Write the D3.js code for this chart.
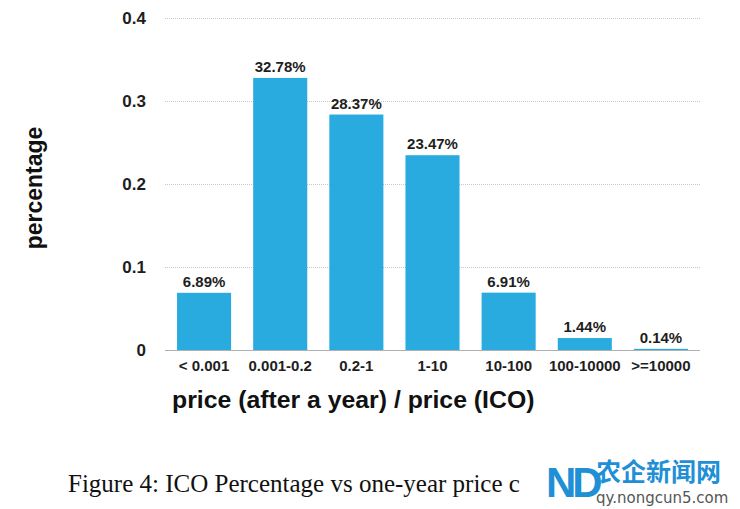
<!DOCTYPE html>
<html><head><meta charset="utf-8">
<script src="https://cdn.jsdelivr.net/npm/d3@7"></script>
<style>
html,body{margin:0;padding:0;background:#fff;}
svg{display:block;}
</style>
</head><body>
<svg id="chart" width="740" height="509"></svg>
<script>
const categories = ["< 0.001", "0.001-0.2", "0.2-1", "1-10", "10-100", "100-10000", ">=10000"];
const values = [0.0689, 0.3278, 0.2837, 0.2347, 0.0691, 0.0144, 0.0014];
const valueLabels = ["6.89%", "32.78%", "28.37%", "23.47%", "6.91%", "1.44%", "0.14%"];
const yTicks = [0, 0.1, 0.2, 0.3, 0.4];
const yTickLabels = ["0", "0.1", "0.2", "0.3", "0.4"];
const xTitle = "price (after a year) / price (ICO)";
const yTitle = "percentage";
const caption = "Figure 4: ICO Percentage vs one-year price c";

const svg = d3.select("#chart");
const sans = "'Liberation Sans', Arial, Helvetica, sans-serif";

const x = d3.scaleBand().domain(categories).range([166, 699]).paddingInner(0.29).paddingOuter(0.145);
const y = d3.scaleLinear().domain([0, 0.4]).range([350, 18]);

// grid lines
svg.append("g").selectAll("line").data(yTicks.slice(1)).join("line")
  .attr("x1", 165).attr("x2", 700)
  .attr("y1", d => y(d) + 0.5).attr("y2", d => y(d) + 0.5)
  .attr("stroke", "#c8c8c8").attr("stroke-width", 1).attr("stroke-dasharray", "1,1");

// y tick labels
const yAxis = d3.axisLeft(y).tickValues(yTicks).tickFormat((d, i) => yTickLabels[i]).tickSize(0).tickPadding(0);
const gy = svg.append("g").attr("transform", "translate(146,0)").call(yAxis);
gy.select(".domain").remove();
gy.selectAll("text").attr("font-family", sans).attr("font-weight", "bold").attr("font-size", 17).attr("fill", "#1e1e1e");

// bars
svg.append("g").selectAll("rect").data(values).join("rect")
  .attr("x", (d, i) => x(categories[i]))
  .attr("width", x.bandwidth())
  .attr("y", d => y(d))
  .attr("height", d => y(0) - y(d))
  .attr("fill", "#29abe0");

// baseline
svg.append("line").attr("x1", 165).attr("x2", 700).attr("y1", y(0) + 0.5).attr("y2", y(0) + 0.5)
  .attr("stroke", "#b0b0b0").attr("stroke-width", 1);

// value labels
svg.append("g").selectAll("text").data(values).join("text")
  .attr("x", (d, i) => x(categories[i]) + x.bandwidth() / 2)
  .attr("y", d => y(d) - 6)
  .attr("text-anchor", "middle")
  .attr("font-family", sans).attr("font-weight", "bold").attr("font-size", 15).attr("fill", "#1e1e1e")
  .text((d, i) => valueLabels[i]);

// x tick labels
const xAxis = d3.axisBottom(x).tickSize(0).tickPadding(0);
const gx = svg.append("g").attr("transform", "translate(0,360)").call(xAxis);
gx.select(".domain").remove();
gx.selectAll("text").attr("font-family", sans).attr("font-weight", "bold").attr("font-size", 15).attr("fill", "#1e1e1e");

// axis titles
svg.append("text").attr("x", 172).attr("y", 408)
  .attr("font-family", sans).attr("font-weight", "bold").attr("font-size", 24.8).attr("fill", "#111")
  .text(xTitle);
svg.append("text").attr("transform", "translate(42,188) rotate(-90)")
  .attr("text-anchor", "middle")
  .attr("font-family", sans).attr("font-weight", "bold").attr("font-size", 23).attr("fill", "#111")
  .text(yTitle);

// caption
svg.append("text").attr("x", 68).attr("y", 492)
  .attr("font-family", "'Liberation Serif', 'Times New Roman', serif").attr("font-size", 25).attr("fill", "#111")
  .text(caption);

// watermark
const wm = svg.append("g");
wm.append("text").attr("x", 546).attr("y", 497)
  .attr("font-family", sans).attr("font-weight", "bold").attr("font-size", 42)
  .attr("fill", "#1f8fd6").attr("letter-spacing", -4).text("ND");
wm.append("text").attr("x", 596).attr("y", 481)
  .attr("font-family", "'Noto Sans CJK SC', sans-serif").attr("font-weight", "bold").attr("font-size", 25)
  .attr("fill", "#1f8fd6").text("农企新闻网");
wm.append("text").attr("x", 596).attr("y", 503)
  .attr("font-family", "'DejaVu Sans', sans-serif").attr("font-size", 15)
  .attr("fill", "#555").text("qy.nongcun5.com");
</script>
</body></html>
